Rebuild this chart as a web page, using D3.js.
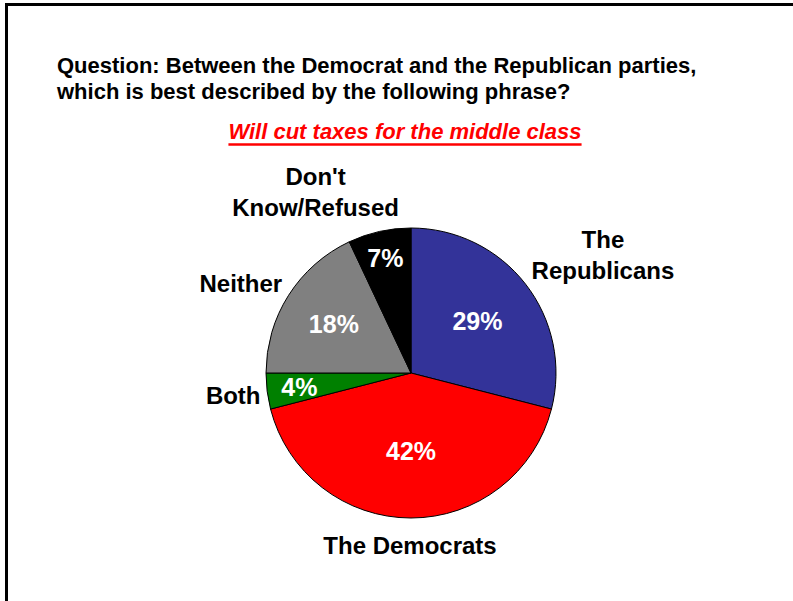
<!DOCTYPE html>
<html>
<head>
<meta charset="utf-8">
<script src="https://cdn.jsdelivr.net/npm/d3@7"></script>
<style>
  html, body { margin: 0; padding: 0; background: #fff; }
  svg { display: block; }
  text { font-family: "Liberation Sans", Arial, sans-serif; font-weight: bold; }
</style>
</head>
<body>
<svg id="chart" width="793" height="601"></svg>
<script>
// ---- data ----
const categories = ["The Republicans", "The Democrats", "Both", "Neither", "Don't Know/Refused"];
const labelLines = [["The", "Republicans"], ["The Democrats"], ["Both"], ["Neither"], ["Don't", "Know/Refused"]];
const values = [29, 42, 4, 18, 7];
const colors = ["#333399", "#FF0000", "#008000", "#808080", "#000000"];
const titleLines = ["Question: Between the Democrat and the Republican parties,",
                    "which is best described by the following phrase?"];
const subtitle = "Will cut taxes for the middle class";

// ---- layout (not data) ----
const W = 793, H = 601;
const cx = 411, cy = 373, R = 145;
const innerLabelRadius = [0.58, 0.54, 0.776, 0.63, 0.81];    // fraction of R
const outerNudge = [[71, -24], [-1, 19], [-26, 3], [-41, -8], [-62, -32]]; // from arc point at R+8

const svg = d3.select("#chart");

// frame
svg.append("rect")
  .attr("x", 6.5).attr("y", 4.5)
  .attr("width", W + 20).attr("height", H + 20)
  .attr("fill", "none").attr("stroke", "#000").attr("stroke-width", 3);

// title
svg.append("g").selectAll("text").data(titleLines).join("text")
  .attr("x", 57).attr("y", (d, i) => 73 + i * 26)
  .attr("font-size", 22).attr("fill", "#000")
  .text(d => d);

// subtitle
const sub = svg.append("text")
  .attr("x", 405).attr("y", 139)
  .attr("text-anchor", "middle")
  .attr("font-size", 22).attr("font-style", "italic")
  .attr("fill", "#FF0000")
  .text(subtitle);
const sb = sub.node().getBBox();
svg.append("line")
  .attr("x1", sb.x).attr("x2", sb.x + sb.width)
  .attr("y1", 144.5).attr("y2", 144.5)
  .attr("stroke", "#FF0000").attr("stroke-width", 2.5);

// pie
const pie = d3.pie().sort(null).value(d => d)(values);
const arc = d3.arc().innerRadius(0).outerRadius(R);
const g = svg.append("g").attr("transform", `translate(${cx},${cy})`);

g.selectAll("path").data(pie).join("path")
  .attr("d", arc)
  .attr("fill", (d, i) => colors[i])
  .attr("stroke", "#000").attr("stroke-width", 1);

const mid = d => (d.startAngle + d.endAngle) / 2;

// inner percent labels
g.selectAll("text.pct").data(pie).join("text")
  .attr("class", "pct")
  .attr("x", (d, i) => Math.sin(mid(d)) * R * innerLabelRadius[i])
  .attr("y", (d, i) => -Math.cos(mid(d)) * R * innerLabelRadius[i])
  .attr("dy", "0.36em")
  .attr("text-anchor", "middle")
  .attr("font-size", 25).attr("fill", "#fff")
  .text(d => d.value + "%");

// outer category labels
const outer = g.selectAll("text.cat").data(pie).join("text")
  .attr("class", "cat")
  .attr("text-anchor", "middle")
  .attr("font-size", 24).attr("fill", "#000")
  .attr("transform", (d, i) => {
    const x = Math.sin(mid(d)) * (R + 8) + outerNudge[i][0];
    const y = -Math.cos(mid(d)) * (R + 8) + outerNudge[i][1];
    return `translate(${x},${y})`;
  });
outer.each(function(d, i) {
  const lines = labelLines[i];
  const lh = 31;
  const top = -(lines.length - 1) * lh / 2;
  d3.select(this).selectAll("tspan").data(lines).join("tspan")
    .attr("x", 0)
    .attr("y", (t, j) => top + j * lh)
    .attr("dy", "0.36em")
    .text(t => t);
});
</script>
</body>
</html>
